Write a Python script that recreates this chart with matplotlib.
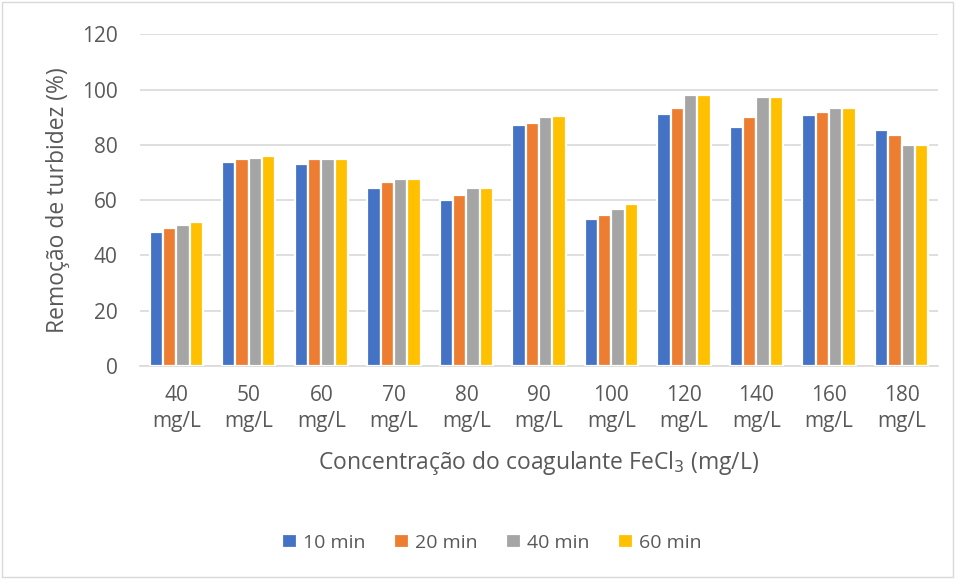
import numpy as np
import matplotlib
matplotlib.use("Agg")
import matplotlib.pyplot as plt
from matplotlib.patches import Rectangle

# Turbidity removal (%) per FeCl3 dose and settling time
doses = ["40\nmg/L", "50\nmg/L", "60\nmg/L", "70\nmg/L", "80\nmg/L", "90\nmg/L",
         "100\nmg/L", "120\nmg/L", "140\nmg/L", "160\nmg/L", "180\nmg/L"]
series_names = ["10 min", "20 min", "40 min", "60 min"]
rem_10 = [48.5, 73.9, 73.2, 64.5, 60.0, 87.3, 53.3, 91.3, 86.5, 90.7, 85.3]
rem_20 = [49.9, 74.7, 74.7, 66.6, 61.9, 87.9, 54.5, 93.2, 89.9, 91.8, 83.4]
rem_40 = [51.1, 75.4, 74.7, 67.8, 64.5, 89.9, 56.6, 97.9, 97.2, 93.2, 79.9]
rem_60 = [51.9, 75.9, 74.7, 67.8, 64.5, 90.6, 58.6, 97.9, 97.2, 93.2, 79.9]
yticks = [0, 20, 40, 60, 80, 100, 120]

COLORS = ["#4472C4", "#ED7D31", "#A5A5A5", "#FFC000"]
TEXT = "#595959"
GRID = "#D9D9D9"

plt.rcParams['font.family'] = ['Open Sans', 'DejaVu Sans']

fig = plt.figure(figsize=(9.55, 5.79), dpi=100)
ax = fig.add_axes([0.1466, 0.368, 0.8354, 0.5728])

x = np.arange(len(doses))
step = 0.184
for i, (vals, name) in enumerate(zip([rem_10, rem_20, rem_40, rem_60], series_names)):
    ax.bar(x + (i - 1.5) * step, vals, width=step, color=COLORS[i],
           edgecolor="white", linewidth=1.6, label=name, zorder=3)

ax.set_xlim(-0.5, len(doses) - 0.5)
ax.set_ylim(0, 120)
ax.set_yticks(yticks)
ax.yaxis.grid(True, color=GRID, linewidth=1.2, zorder=0)
for s in ["top", "right", "left"]:
    ax.spines[s].set_visible(False)
ax.spines["bottom"].set_color(GRID)
ax.spines["bottom"].set_linewidth(1.2)
ax.tick_params(axis="both", length=0, labelsize=15, colors=TEXT)
ax.tick_params(axis="y", pad=16)
ax.set_xticks(x)
ax.set_xticklabels(doses, linespacing=1.3)
ax.tick_params(axis="x", pad=14)

ax.set_ylabel("Remoção de turbidez (%)", fontsize=16.5, color=TEXT, labelpad=9)
ax.set_xlabel("Concentração do coagulante FeCl$_3$ (mg/L)", fontsize=16.5,
              color=TEXT, labelpad=12)

leg = ax.legend(loc="center", bbox_to_anchor=(0.515, 0.062), bbox_transform=fig.transFigure,
                ncol=4, frameon=False, fontsize=14, handlelength=0.75, handleheight=0.75,
                handletextpad=0.3, columnspacing=1.5)
for t in leg.get_texts():
    t.set_color(TEXT)

# thin chart-area border
fig.patches.append(Rectangle((0.002, 0.003), 0.996, 0.994, transform=fig.transFigure,
                             fill=False, edgecolor=GRID, linewidth=1))

fig.savefig("out.png", dpi=100)
